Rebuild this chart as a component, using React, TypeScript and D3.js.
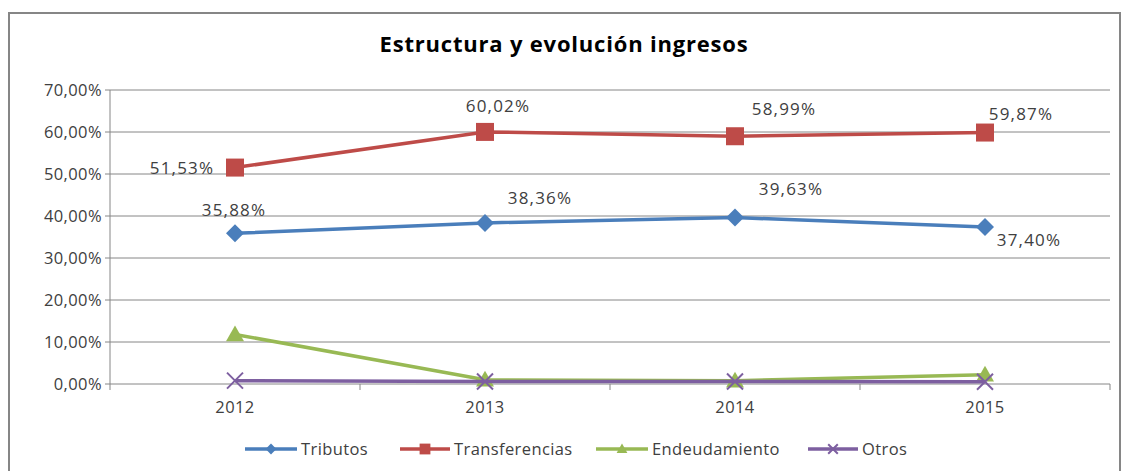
import React from 'react';
import * as d3 from 'd3';

const years = ['2012', '2013', '2014', '2015'];
const tributos = [35.88, 38.36, 39.63, 37.4];
const transferencias = [51.53, 60.02, 58.99, 59.87];
const endeudamiento = [11.8, 1.0, 0.8, 2.2];
const otros = [0.8, 0.6, 0.58, 0.53];
const yTicks = [0, 10, 20, 30, 40, 50, 60, 70];

// label offsets relative to the point (dx, dy) as in the original
const tributosLabelPos = [[-1, -23], [55, -25], [56, -29], [44, 13]];
const transferLabelPos = [[-53, 0], [13, -26], [49, -27], [36, -18]];

type Series = { name: string; values: number[]; color: string; marker: string; labels?: number[][] };

const series: Series[] = [
  { name: 'Tributos', values: tributos, color: '#4A7EBB', marker: 'diamond', labels: tributosLabelPos },
  { name: 'Transferencias', values: transferencias, color: '#BE4B48', marker: 'square', labels: transferLabelPos },
  { name: 'Endeudamiento', values: endeudamiento, color: '#98B954', marker: 'triangle' },
  { name: 'Otros', values: otros, color: '#7D5FA0', marker: 'x' },
];

const fmt = (v: number) => v.toFixed(2).replace('.', ',') + '%';

const Marker: React.FC<{ kind: string; x: number; y: number; color: string; s?: number }> = ({ kind, x, y, color, s = 1 }) => {
  if (kind === 'diamond') {
    const r = 9 * s;
    return <path d={`M${x},${y - r}L${x + r},${y}L${x},${y + r}L${x - r},${y}Z`} fill={color} />;
  }
  if (kind === 'square') {
    const r = 9 * s;
    return <rect x={x - r} y={y - r} width={2 * r} height={2 * r} fill={color} />;
  }
  if (kind === 'triangle') {
    const r = 9 * s;
    return <path d={`M${x},${y - r}L${x + r},${y + r * 0.75}L${x - r},${y + r * 0.75}Z`} fill={color} />;
  }
  const r = 8 * s;
  return (
    <path d={`M${x - r},${y - r}L${x + r},${y + r}M${x - r},${y + r}L${x + r},${y - r}`} stroke={color} strokeWidth={2} />
  );
};

export default function App() {
  const width = 1124;
  const height = 471;
  const left = 110, right = 1110, top = 90, bottom = 384;

  const x = d3.scaleBand<string>().domain(years).range([left, right]);
  const y = d3.scaleLinear().domain([0, 70]).range([bottom, top]);
  const cx = (yr: string) => (x(yr) ?? 0) + x.bandwidth() / 2;

  const line = d3.line<number>().x((_, i) => cx(years[i])).y(v => y(v));

  const font = '"Open Sans", sans-serif';
  const legendPos = [245, 400, 596, 808];
  const legendW = [52, 50, 52, 50];

  return (
    <svg width={width} height={height} style={{ position: 'absolute', left: 0, top: 0, fontFamily: font }}>
      <rect x={0} y={0} width={width} height={height} fill="#fff" />
      <path d={`M9,${height}V13H1120V${height}`} fill="none" stroke="#868686" strokeWidth={2} />

      <text x={564} y={52} textAnchor="middle" fontSize={22} fontWeight="bold" letterSpacing={0.8} fill="#000">
        Estructura y evolución ingresos
      </text>

      {yTicks.map(t => (
        <g key={t}>
          <line x1={left - 5} x2={right} y1={y(t)} y2={y(t)} stroke="#868686" strokeWidth={1} />
          <text x={left - 8} y={y(t)} dy="0.35em" textAnchor="end" fontSize={16.5} letterSpacing={0.4} fill="#404040">
            {fmt(t)}
          </text>
        </g>
      ))}
      <line x1={left} x2={left} y1={top} y2={bottom} stroke="#868686" />
      {years.map((yr, i) => (
        <line key={'t' + i} x1={x(yr)} x2={x(yr)} y1={bottom} y2={bottom + 6} stroke="#868686" />
      ))}
      <line x1={right} x2={right} y1={bottom} y2={bottom + 6} stroke="#868686" />
      {years.map(yr => (
        <text key={yr} x={cx(yr)} y={407} dy="0.35em" textAnchor="middle" fontSize={16.5} letterSpacing={0.4} fill="#404040">
          {yr}
        </text>
      ))}

      {series.map(s => (
        <g key={s.name}>
          <path d={line(s.values) ?? ''} fill="none" stroke={s.color} strokeWidth={3.5} />
          {s.values.map((v, i) => (
            <Marker key={i} kind={s.marker} x={cx(years[i])} y={y(v)} color={s.color} />
          ))}
          {s.labels &&
            s.values.map((v, i) => (
              <text
                key={'l' + i}
                x={cx(years[i]) + s.labels![i][0]}
                y={y(v) + s.labels![i][1]}
                dy="0.35em"
                textAnchor="middle"
                fontSize={17}
                letterSpacing={1.2}
                fill="#404040"
              >
                {fmt(v)}
              </text>
            ))}
        </g>
      ))}

      {series.map((s, i) => {
        const lx = legendPos[i];
        const w = legendW[i];
        return (
          <g key={'lg' + s.name}>
            <line x1={lx} x2={lx + w} y1={449} y2={449} stroke={s.color} strokeWidth={3.5} />
            <Marker kind={s.marker} x={lx + w / 2} y={449} color={s.color} s={0.6} />
            <text x={lx + w + 4} y={449} dy="0.35em" fontSize={16.5} letterSpacing={0.4} fill="#404040">
              {s.name}
            </text>
          </g>
        );
      })}
    </svg>
  );
}
